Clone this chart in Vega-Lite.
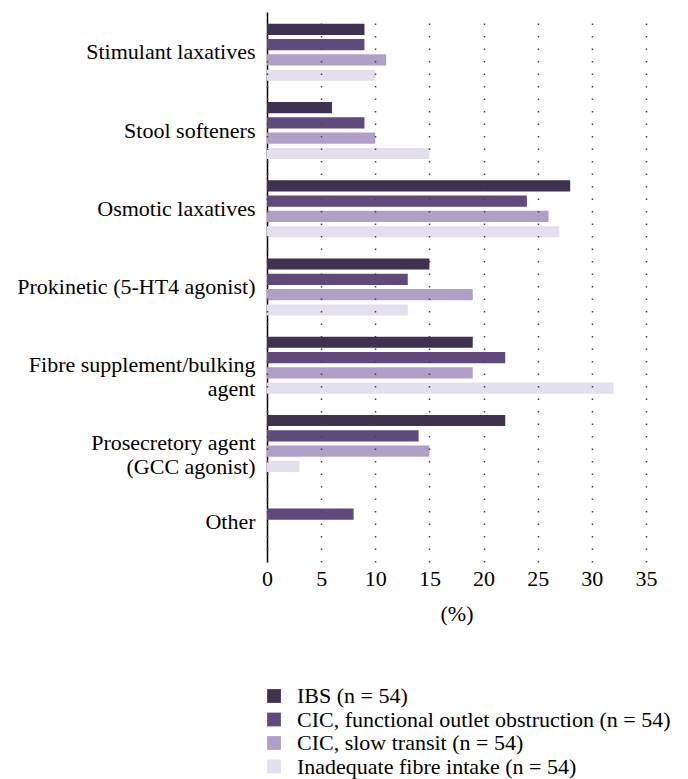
{
  "$schema": "https://vega.github.io/schema/vega-lite/v6.json",
  "width": 379,
  "height": 550,
  "autosize": {"type": "none"},
  "padding": {"left": 267, "top": 12, "right": 42, "bottom": 217},
  "background": "white",
  "config": {
    "font": "Liberation Serif",
    "view": {"stroke": null}
  },
  "data": {
    "values": [
      {"treatment": "Stimulant laxatives", "group": "IBS (n = 54)", "value": 9},
      {"treatment": "Stimulant laxatives", "group": "CIC, functional outlet obstruction (n = 54)", "value": 9},
      {"treatment": "Stimulant laxatives", "group": "CIC, slow transit (n = 54)", "value": 11},
      {"treatment": "Stimulant laxatives", "group": "Inadequate fibre intake (n = 54)", "value": 10},
      {"treatment": "Stool softeners", "group": "IBS (n = 54)", "value": 6},
      {"treatment": "Stool softeners", "group": "CIC, functional outlet obstruction (n = 54)", "value": 9},
      {"treatment": "Stool softeners", "group": "CIC, slow transit (n = 54)", "value": 10},
      {"treatment": "Stool softeners", "group": "Inadequate fibre intake (n = 54)", "value": 15},
      {"treatment": "Osmotic laxatives", "group": "IBS (n = 54)", "value": 28},
      {"treatment": "Osmotic laxatives", "group": "CIC, functional outlet obstruction (n = 54)", "value": 24},
      {"treatment": "Osmotic laxatives", "group": "CIC, slow transit (n = 54)", "value": 26},
      {"treatment": "Osmotic laxatives", "group": "Inadequate fibre intake (n = 54)", "value": 27},
      {"treatment": "Prokinetic (5-HT4 agonist)", "group": "IBS (n = 54)", "value": 15},
      {"treatment": "Prokinetic (5-HT4 agonist)", "group": "CIC, functional outlet obstruction (n = 54)", "value": 13},
      {"treatment": "Prokinetic (5-HT4 agonist)", "group": "CIC, slow transit (n = 54)", "value": 19},
      {"treatment": "Prokinetic (5-HT4 agonist)", "group": "Inadequate fibre intake (n = 54)", "value": 13},
      {"treatment": "Fibre supplement/bulking|agent", "group": "IBS (n = 54)", "value": 19},
      {"treatment": "Fibre supplement/bulking|agent", "group": "CIC, functional outlet obstruction (n = 54)", "value": 22},
      {"treatment": "Fibre supplement/bulking|agent", "group": "CIC, slow transit (n = 54)", "value": 19},
      {"treatment": "Fibre supplement/bulking|agent", "group": "Inadequate fibre intake (n = 54)", "value": 32},
      {"treatment": "Prosecretory agent|(GCC agonist)", "group": "IBS (n = 54)", "value": 22},
      {"treatment": "Prosecretory agent|(GCC agonist)", "group": "CIC, functional outlet obstruction (n = 54)", "value": 14},
      {"treatment": "Prosecretory agent|(GCC agonist)", "group": "CIC, slow transit (n = 54)", "value": 15},
      {"treatment": "Prosecretory agent|(GCC agonist)", "group": "Inadequate fibre intake (n = 54)", "value": 3},
      {"treatment": "Other", "group": "IBS (n = 54)", "value": 0},
      {"treatment": "Other", "group": "CIC, functional outlet obstruction (n = 54)", "value": 8},
      {"treatment": "Other", "group": "CIC, slow transit (n = 54)", "value": 0},
      {"treatment": "Other", "group": "Inadequate fibre intake (n = 54)", "value": 0}
    ]
  },
  "mark": {"type": "bar", "cornerRadius": 0},
  "encoding": {
    "y": {
      "field": "treatment",
      "type": "nominal",
      "sort": null,
      "scale": {"paddingInner": 0.27, "paddingOuter": 0.15},
      "axis": {
        "title": null,
        "labelExpr": "split(datum.label, '|')",
        "labelFont": "Liberation Serif",
        "labelFontSize": 22,
        "labelColor": "#000000",
        "labelPadding": 12,
        "labelLineHeight": 24,
        "labelLimit": 300,
        "ticks": false,
        "domainColor": "#000000",
        "domainWidth": 1.5,
        "grid": false
      }
    },
    "yOffset": {
      "field": "group",
      "type": "nominal",
      "sort": null,
      "scale": {"paddingInner": 0.27, "paddingOuter": 0}
    },
    "x": {
      "field": "value",
      "type": "quantitative",
      "scale": {"domain": [0, 35], "nice": false},
      "axis": {
        "title": "(%)",
        "titleFont": "Liberation Serif",
        "titleFontSize": 22,
        "titleFontWeight": "normal",
        "titleColor": "#000000",
        "titlePadding": 14,
        "values": [0, 5, 10, 15, 20, 25, 30, 35],
        "labelFont": "Liberation Serif",
        "labelFontSize": 22,
        "labelColor": "#000000",
        "labelPadding": 6,
        "labelFlush": false,
        "ticks": false,
        "domain": false,
        "grid": true,
        "gridColor": "#444444",
        "gridDash": [1.5, 11],
        "gridWidth": 1.5,
        "zindex": 1
      }
    },
    "color": {
      "field": "group",
      "type": "nominal",
      "sort": null,
      "scale": {
        "domain": ["IBS (n = 54)", "CIC, functional outlet obstruction (n = 54)", "CIC, slow transit (n = 54)", "Inadequate fibre intake (n = 54)"],
        "range": ["#3f3150", "#5f4a7b", "#b0a0c8", "#e3dfec"]
      },
      "legend": {
        "title": null,
        "orient": "none",
        "legendX": -4,
        "legendY": 673,
        "direction": "vertical",
        "symbolType": "square",
        "symbolSize": 190,
        "symbolStrokeWidth": 0,
        "labelFont": "Liberation Serif",
        "labelFontSize": 22,
        "labelColor": "#000000",
        "labelOffset": 12,
        "labelLimit": 500,
        "rowPadding": 1.5
      }
    }
  }
}
